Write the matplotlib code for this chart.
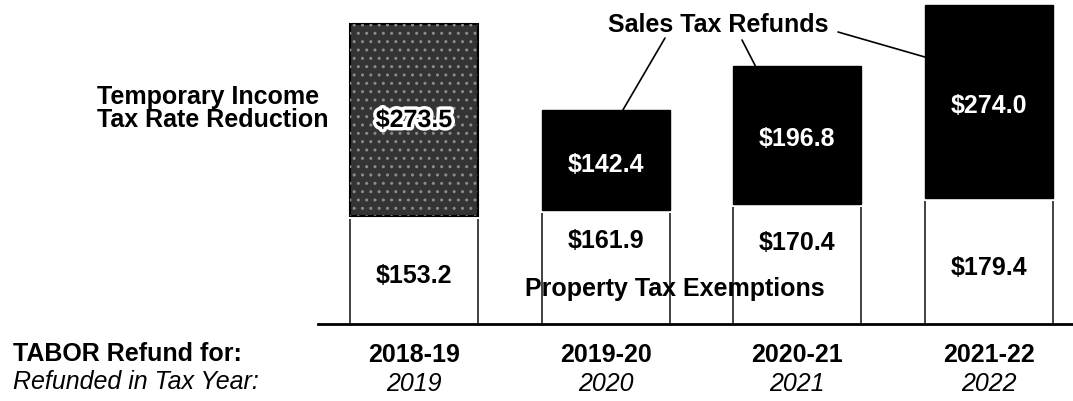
import matplotlib
matplotlib.use("Agg")
import matplotlib.pyplot as plt
import matplotlib.patheffects as pe

plt.rcParams["font.family"] = ["Liberation Sans", "DejaVu Sans"]

# data ($ millions)
years = ["2018-19", "2019-20", "2020-21", "2021-22"]
tax_years = ["2019", "2020", "2021", "2022"]
property_exempt = [153.2, 161.9, 170.4, 179.4]
income_tax_cut = [273.5, 0, 0, 0]
sales_refunds = [0, 142.4, 196.8, 274.0]

W, H = 1073, 402
fig = plt.figure(figsize=(W / 100, H / 100), dpi=100)
ax = fig.add_axes([0, 0, 1, 1])
ax.set_xlim(-2.16, 3.438)
ax.set_ylim(-109.4, 461.9)
ax.axis("off")

xs = list(range(len(years)))
bw = 0.668
fs = 18

def fig_xy(px, py):
    # reference pixel position -> figure fraction
    return px / W, 1 - py / H

def row_y(py):
    # reference pixel row -> data units (baseline at py=325)
    return (325 - py) / 0.7036

# property tax exemptions (white with side rules)
ax.bar(xs, property_exempt, bw, color="white", edgecolor="none", zorder=2)
for x, v in zip(xs, property_exempt):
    ax.vlines([x - bw / 2, x + bw / 2], 0, v - 4, colors="#222222",
              linewidth=1.2, zorder=3)

# temporary income tax rate reduction (speckled gray)
plt.rcParams["hatch.linewidth"] = 1.0
ax.bar(xs[0], income_tax_cut[0], bw, bottom=property_exempt[0],
       color="#343434", edgecolor="black", linewidth=1.5, zorder=2)
ax.bar(xs[0], income_tax_cut[0], bw, bottom=property_exempt[0],
       color="none", edgecolor="#8c8c8c", hatch="..", linewidth=0, zorder=2)

# sales tax refunds (black)
ax.bar(xs[1:], sales_refunds[1:], bw, bottom=property_exempt[1:],
       color="black", edgecolor="black", zorder=2)

# baseline
ax.axhline(0, xmin=318 / W, xmax=1, color="black", linewidth=2, zorder=4)

# value labels
prop_label_y = [69, 119, 116, 81]
for x, v, ly in zip(xs, property_exempt, prop_label_y):
    ax.text(x, ly, f"${v:.1f}", ha="center", va="center",
            fontsize=fs, fontweight="bold", zorder=5)

ax.text(xs[0], property_exempt[0] + income_tax_cut[0] / 2, f"${income_tax_cut[0]:.1f}",
        ha="center", va="center", fontsize=fs, fontweight="bold", color="black", zorder=5,
        path_effects=[pe.withStroke(linewidth=5, foreground="white")])
for x, b, v in zip(xs[1:], property_exempt[1:], sales_refunds[1:]):
    ax.text(x, b + v / 2 - 5, f"${v:.1f}", ha="center", va="center",
            fontsize=fs, fontweight="bold", color="white", zorder=5)

# series names
ax.text(*fig_xy(97, 97), "Temporary Income", transform=fig.transFigure,
        ha="left", va="center", fontsize=fs, fontweight="bold")
ax.text(*fig_xy(97, 120), "Tax Rate Reduction", transform=fig.transFigure,
        ha="left", va="center", fontsize=fs, fontweight="bold")
ax.text(*fig_xy(718, 25), "Sales Tax Refunds", transform=fig.transFigure,
        ha="center", va="center", fontsize=fs, fontweight="bold")
ax.text(*fig_xy(675, 289), "Property Tax Exemptions", transform=fig.transFigure,
        ha="center", va="center", fontsize=fs, fontweight="bold", zorder=6)

# leader lines from "Sales Tax Refunds"
tops = [b + v for b, v in zip(property_exempt, sales_refunds)]
leaders = [((665, 39), (1.09, tops[1])),
           ((742, 41), (1.78, tops[2])),
           ((838, 33), (xs[3] - bw / 2, tops[3] - 74))]
for (px, py), xy in leaders:
    ax.annotate("", xy=xy, xytext=(px, H - py), textcoords="figure pixels",
                arrowprops=dict(arrowstyle="-", color="black", lw=1.2,
                                shrinkA=0, shrinkB=0))

# category rows
ax.text(*fig_xy(13, 354), "TABOR Refund for:", transform=fig.transFigure,
        ha="left", va="center", fontsize=fs, fontweight="bold")
ax.text(*fig_xy(13, 382), "Refunded in Tax Year:", transform=fig.transFigure,
        ha="left", va="center", fontsize=fs, fontstyle="italic")
for x, yr, ty in zip(xs, years, tax_years):
    ax.text(x, row_y(355), yr, ha="center", va="center",
            fontsize=fs, fontweight="bold")
    ax.text(x, row_y(384), ty, ha="center", va="center",
            fontsize=fs, fontstyle="italic")

fig.savefig("out.png", dpi=100)
